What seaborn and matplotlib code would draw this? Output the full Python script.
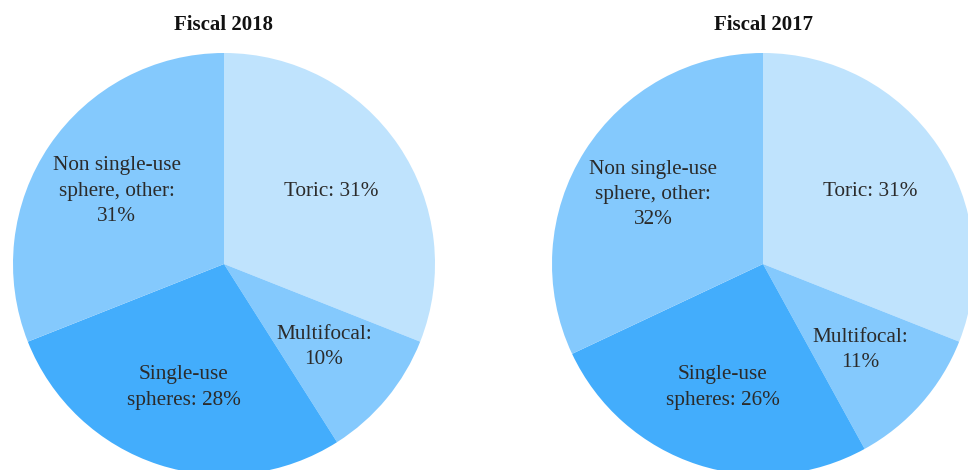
import matplotlib
matplotlib.use("Agg")
import matplotlib.pyplot as plt
import seaborn as sns

sns.set_theme(style="white")
plt.rcParams["font.family"] = ["Liberation Serif", "DejaVu Serif"]

# Revenue mix by product category
categories = ["Toric", "Multifocal:\n", "Single-use\nspheres: ", "Non single-use\nsphere, other:\n"]
share_2018 = [31, 10, 28, 31]
share_2017 = [31, 11, 26, 32]
years = ["Fiscal 2018", "Fiscal 2017"]

slice_colors = ["#bfe3fd", "#84c9fd", "#43adfc", "#84c9fd"]

W, H = 968, 470
fig = plt.figure(figsize=(W / 100, H / 100), dpi=100)
fig.patch.set_facecolor("white")

R = 211  # pie radius in pixels
centers = [(224, 264), (763, 264)]


def make_labels(values):
    out = []
    for name, v in zip(categories, values):
        if name == "Toric":
            out.append(f"{name}: {v}%")
        else:
            out.append(f"{name}{v}%")
    return out


for (cx, cy), title, values in zip(centers, years, [share_2018, share_2017]):
    ax = fig.add_axes([(cx - R) / W, (H - cy - R) / H, 2 * R / W, 2 * R / H])
    wedges, texts = ax.pie(
        values,
        labels=make_labels(values),
        colors=slice_colors,
        startangle=90,
        counterclock=False,
        radius=1,
        labeldistance=0.615,
        wedgeprops=dict(linewidth=0),
        textprops=dict(fontsize=15.3, color="#2b2b2b"),
    )
    for t in texts:
        t.set_ha("center")
        t.set_va("center")
        t.set_multialignment("center")
        t.set_linespacing(1.45)
    ax.set_xlim(-1, 1)
    ax.set_ylim(-1, 1)
    ax.set_aspect("equal")
    ax.axis("off")
    fig.text(cx / W, 1 - 25 / H, title, ha="center", va="center",
             fontsize=15, fontweight="bold", color="#111111")

fig.savefig("out.png", dpi=100, facecolor="white")
